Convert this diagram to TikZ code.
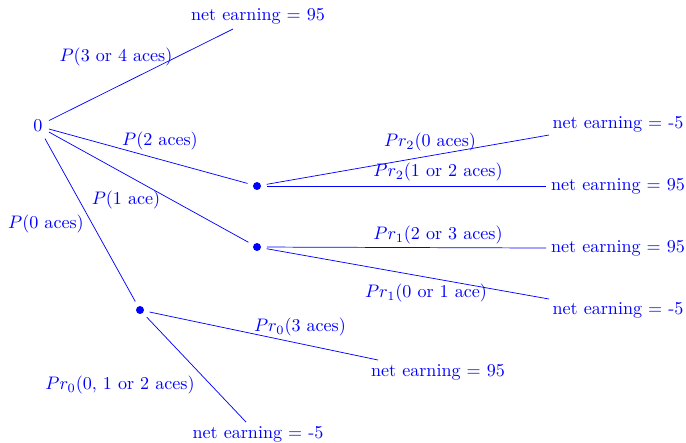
\documentclass[tikz,border=0pt]{standalone}
\begin{document}
\begin{tikzpicture}[x=0.5525pt,y=-0.5525pt,
  every node/.style={text=blue},
  edge/.style={draw=blue, line width=0.4pt},
  dot/.style={circle, fill=blue, inner sep=0pt, minimum size=4.4pt, outer sep=3.2pt},
  lbl/.style={inner sep=0pt}]
\useasboundingbox (0,0) rectangle (686,442);
% decision nodes
\node (r) at (38,126) {0};
\node[dot] (a) at (257,186) {};
\node[dot] (b) at (257,247) {};
\node[dot] (c) at (140,310) {};
% outcomes
\node (t1) at (258,16) {net earning $=$ 95};
\node (a1) at (618,124) {net earning $=$ -5};
\node (a2) at (618,186) {net earning $=$ 95};
\node (b1) at (618,248) {net earning $=$ 95};
\node (b2) at (618,310) {net earning $=$ -5};
\node (c1) at (438,372) {net earning $=$ 95};
\node (c2) at (258,434) {net earning $=$ -5};
% connector ends
\coordinate (e1) at (233,29);
\coordinate (ea1) at (549,135);
\coordinate (ea2) at (546,186);
\coordinate (eb1) at (546,248);
\coordinate (eb2) at (549,299);
\coordinate (ec1) at (378,360);
\coordinate (ec2) at (246,422);
% connectors
\draw[edge] (r) -- (e1);
\draw[edge] (r) -- (a);
\draw[edge] (r) -- (b);
\draw[edge] (r) -- (c);
\draw[edge] (a) -- (ea1);
\draw[edge] (a) -- (ea2);
\draw[edge] (b) -- (eb1);
\draw[edge] (b) -- (eb2);
\draw[edge] (c) -- (ec1);
\draw[edge] (c) -- (ec2);
% labels
\node[lbl] (l1) at (116,57) {$P($3 or 4 aces$)$};
\node[lbl] (l2) at (160,141) {$P($2 aces$)$};
\node[lbl] (l3) at (126,200) {$P($1 ace$)$};
\node[lbl] (l4) at (46,224) {$P($0 aces$)$};
\node[lbl] (l5) at (430,142) {$Pr_2($0 aces$)$};
\node[lbl] (l6) at (438,172) {$Pr_2($1 or 2 aces$)$};
\node[lbl] (l7) at (438,235) {$Pr_1($2 or 3 aces$)$};
\node[lbl] (l8) at (426,293) {$Pr_1($0 or 1 ace$)$};
\node[lbl] (l9) at (300,327) {$Pr_0($3 aces$)$};
\node[lbl] (l10) at (120,385) {$Pr_0($0, 1 or 2 aces$)$};
\end{tikzpicture}
\end{document}
